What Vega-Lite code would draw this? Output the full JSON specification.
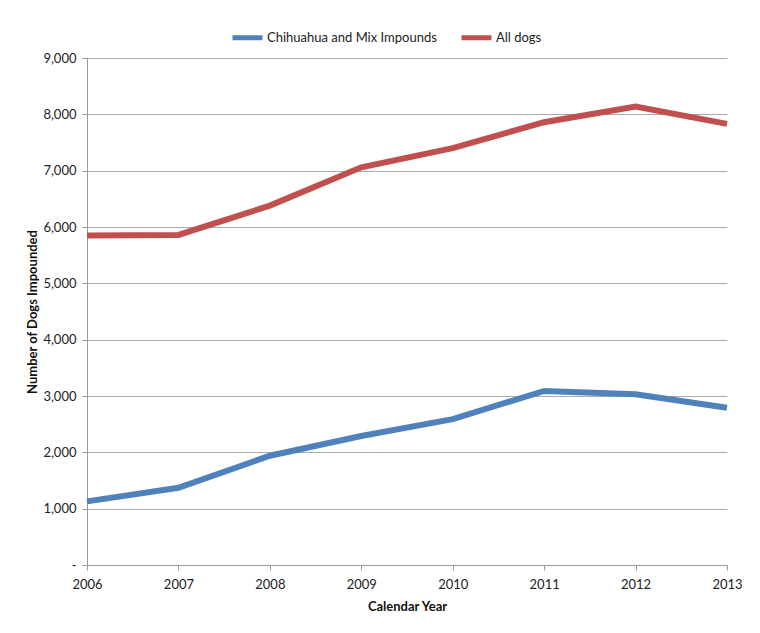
{
  "$schema": "https://vega.github.io/schema/vega-lite/v6.json",
  "width": 640,
  "height": 507,
  "autosize": {"type": "none"},
  "padding": {"left": 87, "top": 58, "right": 33, "bottom": 68},
  "background": "white",
  "config": {
    "view": {"stroke": null},
    "font": "Lato",
    "axis": {"labelFont": "Lato", "titleFont": "Lato", "labelColor": "#222", "titleColor": "#111"},
    "legend": {"labelFont": "Lato"}
  },
  "data": {
    "values": [
      {"year": 2006, "series": "Chihuahua and Mix Impounds", "count": 1130},
      {"year": 2007, "series": "Chihuahua and Mix Impounds", "count": 1370},
      {"year": 2008, "series": "Chihuahua and Mix Impounds", "count": 1940},
      {"year": 2009, "series": "Chihuahua and Mix Impounds", "count": 2290},
      {"year": 2010, "series": "Chihuahua and Mix Impounds", "count": 2590},
      {"year": 2011, "series": "Chihuahua and Mix Impounds", "count": 3090},
      {"year": 2012, "series": "Chihuahua and Mix Impounds", "count": 3030},
      {"year": 2013, "series": "Chihuahua and Mix Impounds", "count": 2790},
      {"year": 2006, "series": "All dogs", "count": 5850},
      {"year": 2007, "series": "All dogs", "count": 5860},
      {"year": 2008, "series": "All dogs", "count": 6380},
      {"year": 2009, "series": "All dogs", "count": 7060},
      {"year": 2010, "series": "All dogs", "count": 7400},
      {"year": 2011, "series": "All dogs", "count": 7860},
      {"year": 2012, "series": "All dogs", "count": 8140},
      {"year": 2013, "series": "All dogs", "count": 7830}
    ]
  },
  "mark": {"type": "line", "strokeWidth": 6, "strokeCap": "butt", "strokeJoin": "miter"},
  "encoding": {
    "x": {
      "field": "year",
      "type": "quantitative",
      "scale": {"domain": [2006, 2013], "nice": false, "zero": false},
      "axis": {
        "title": "Calendar Year",
        "titleFontSize": 13,
        "titleFontWeight": "bold",
        "titlePadding": 9,
        "format": "d",
        "values": [2006, 2007, 2008, 2009, 2010, 2011, 2012, 2013],
        "grid": false,
        "domainColor": "#999",
        "tickColor": "#999",
        "tickSize": 5,
        "labelFontSize": 13,
        "labelPadding": 8,
        "labelFlush": false
      }
    },
    "y": {
      "field": "count",
      "type": "quantitative",
      "scale": {"domain": [0, 9000], "nice": false},
      "axis": {
        "title": "Number of Dogs Impounded",
        "titleFontSize": 13,
        "titleFontWeight": "bold",
        "titlePadding": 3,
        "values": [0, 1000, 2000, 3000, 4000, 5000, 6000, 7000, 8000, 9000],
        "labelExpr": "datum.value == 0 ? '-' : format(datum.value, ',')",
        "gridColor": "#aaa",
        "gridWidth": 1,
        "domainColor": "#999",
        "tickColor": "#999",
        "tickSize": 5,
        "labelFontSize": 13,
        "labelPadding": 6
      }
    },
    "color": {
      "field": "series",
      "type": "nominal",
      "scale": {"domain": ["Chihuahua and Mix Impounds", "All dogs"], "range": ["#4F81BD", "#C0504D"]},
      "legend": {
        "title": null,
        "orient": "none",
        "direction": "horizontal",
        "legendX": 143,
        "legendY": -38,
        "symbolType": "stroke",
        "symbolStrokeWidth": 5,
        "symbolSize": 900,
        "labelFontSize": 13,
        "labelLimit": 0,
        "labelColor": "#222",
        "columnPadding": 14,
        "labelOffset": 2
      }
    }
  }
}
